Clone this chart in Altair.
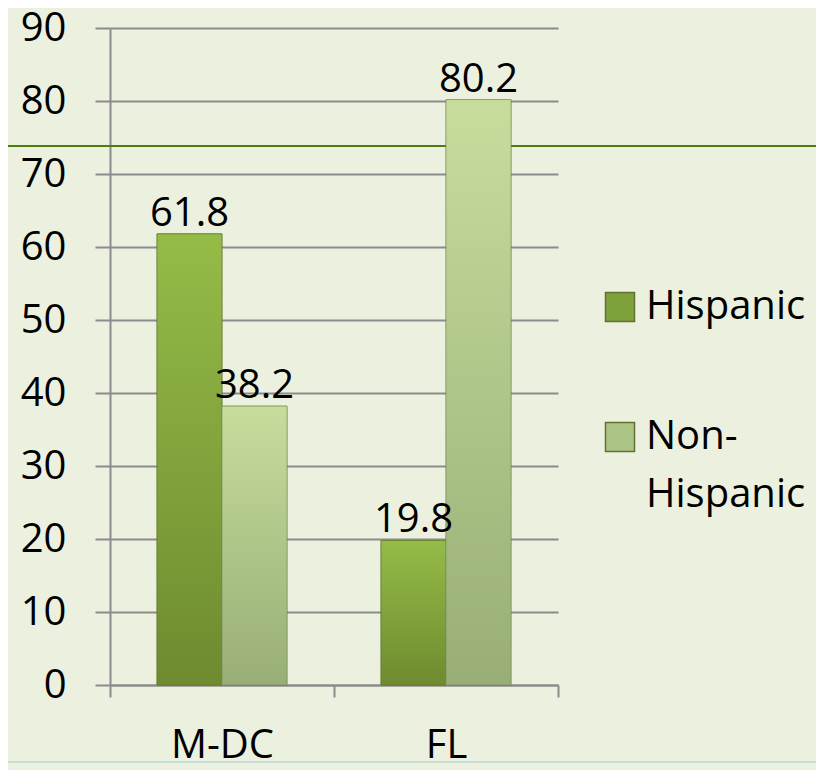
import altair as alt
import pandas as pd

regions = ["M-DC", "M-DC", "FL", "FL"]
groups = ["Hispanic", "Non-Hispanic", "Hispanic", "Non-Hispanic"]
values = [61.8, 38.2, 19.8, 80.2]
y_ticks = [0, 10, 20, 30, 40, 50, 60, 70, 80, 90]

df = pd.DataFrame({"region": regions, "group": groups, "value": values})

FONT = "Open Sans"
GRID = "#8c8c8c"
BG = "#ecf0df"

x_enc = alt.X("region:N", sort=["M-DC", "FL"], title=None,
              scale=alt.Scale(paddingInner=0, paddingOuter=0),
              axis=alt.Axis(labelAngle=0, labelFontSize=40, labelFont=FONT, labelColor="black",
                            labelPadding=28, tickBand="extent", tickSize=12, tickColor=GRID,
                            tickWidth=2, domainColor=GRID, domainWidth=2, grid=False))
y_enc = alt.Y("value:Q", title=None,
              scale=alt.Scale(domain=[0, 90], nice=False),
              axis=alt.Axis(values=y_ticks, labelFontSize=40, labelFont=FONT, labelColor="black",
                            labelPadding=29, tickSize=15, tickColor=GRID, tickWidth=2,
                            domainColor=GRID, domainWidth=2, gridColor=GRID, gridWidth=2))
xo = alt.XOffset("group:N", sort=["Hispanic", "Non-Hispanic"],
                 scale=alt.Scale(paddingInner=0, paddingOuter=0.723))

color = alt.Color("group:N", sort=["Hispanic", "Non-Hispanic"],
                  scale=alt.Scale(domain=["Hispanic", "Non-Hispanic"], range=["#7fa13a", "#adc487"]),
                  legend=alt.Legend(title=None, orient="none", legendX=490, legendY=259,
                                    symbolType="square", symbolSize=841, symbolStrokeColor="#5f7030",
                                    symbolStrokeWidth=1.5, labelFont=FONT, labelFontSize=40,
                                    labelColor="black", labelOffset=6, rowPadding=90,
                                    labelExpr="datum.label == 'Non-Hispanic' ? ['Non-', 'Hispanic'] : datum.label"))

base = alt.Chart(df).encode(x=x_enc, xOffset=xo, y=y_enc)

deco = alt.Chart(df).mark_rule(color="#4f7d10", strokeWidth=1.5).encode(
    x=alt.value(-110), x2=alt.value(714), y=alt.value(118))
deco2 = alt.Chart(df).mark_rule(color="#c3dcd8", strokeWidth=1.2).encode(
    x=alt.value(-110), x2=alt.value(714), y=alt.value(734))

bars = base.mark_bar(stroke="#5d7326", strokeWidth=1, strokeOpacity=0.6).encode(color=color)

grad_h = alt.LinearGradient(gradient="linear", x1=0, y1=0, x2=0, y2=1,
                            stops=[alt.GradientStop(offset=0, color="#95bb47"),
                                   alt.GradientStop(offset=1, color="#6e8b30")])
grad_n = alt.LinearGradient(gradient="linear", x1=0, y1=0, x2=0, y2=1,
                            stops=[alt.GradientStop(offset=0, color="#c6dd9c"),
                                   alt.GradientStop(offset=1, color="#98ae76")])

overlay_h = base.transform_filter(alt.datum.group == "Hispanic").mark_bar(
    fill=grad_h, stroke="#5d7326", strokeWidth=1, strokeOpacity=0.6)
overlay_n = base.transform_filter(alt.datum.group == "Non-Hispanic").mark_bar(
    fill=grad_n, stroke="#7d9160", strokeWidth=1, strokeOpacity=0.6)

labels = base.mark_text(font=FONT, fontSize=40, color="black", baseline="alphabetic", dy=-8).encode(
    text=alt.Text("value:Q", format=".1f"))

chart = alt.layer(deco, deco2, bars, overlay_h, overlay_n, labels).properties(
    width=448, height=657,
    autosize=alt.AutoSizeParams(type="none"),
    padding={"left": 102, "top": 20, "right": 258, "bottom": 85},
    background=BG,
).configure(style={"guide-label": {"lineHeight": 58}}).configure_view(stroke=None)

chart.save("out.html", embed_options={"renderer": "svg", "actions": False})
